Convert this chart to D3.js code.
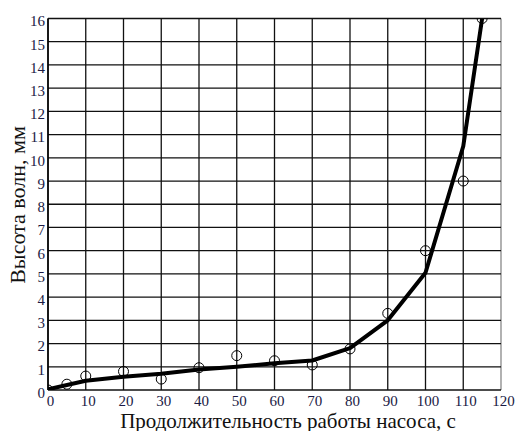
<!DOCTYPE html>
<html>
<head>
<meta charset="utf-8">
<script src="https://cdn.jsdelivr.net/npm/d3@7"></script>
<style>
  body { margin: 0; background: #fff; }
  svg { display: block; }
  .tick text { font-family: "Liberation Serif", "Times New Roman", serif; font-size: 15px; fill: #1a1a44; }
  .title { font-family: "Liberation Serif", "Times New Roman", serif; fill: #111; }
</style>
</head>
<body>
<svg id="chart"></svg>
<script>
// measured points (circles)
var pointX = [0, 5, 10, 20, 30, 40, 50, 60, 70, 80, 90, 100, 110, 115];
var pointY = [0, 0.25, 0.6, 0.8, 0.47, 0.96, 1.48, 1.26, 1.08, 1.77, 3.3, 6.0, 9.0, 16];

// fitted curve
var lineX = [0, 10, 20, 30, 40, 50, 60, 70, 80, 90, 100, 110, 115];
var lineY = [0.03, 0.4, 0.57, 0.7, 0.88, 1.0, 1.15, 1.27, 1.8, 3.0, 5.05, 10.5, 16];

var xTicks = [0, 10, 20, 30, 40, 50, 60, 70, 80, 90, 100, 110, 120];
var yTicks = [0, 1, 2, 3, 4, 5, 6, 7, 8, 9, 10, 11, 12, 13, 14, 15, 16];

var xTitle = 'Продолжительность работы насоса, с';
var yTitle = 'Высота волн, мм';

(function() {
	var width = 516, height = 431;
	var mLeft = 48, mRight = 501, mTop = 18.5, mBottom = 390;

	var svg = d3.select('#chart')
		.attr('width', width)
		.attr('height', height);

	var xScale = d3.scaleLinear().domain([0, 120]).range([mLeft, mRight]);
	var yScale = d3.scaleLinear().domain([0, 16]).range([mBottom, mTop]);

	// clip for the data
	svg.append('clipPath').attr('id', 'plot')
		.append('rect')
		.attr('x', mLeft).attr('y', mTop)
		.attr('width', mRight - mLeft).attr('height', mBottom - mTop);

	// grid
	var grid = svg.append('g').attr('class', 'grid');
	grid.selectAll('line.v').data(xTicks).enter()
		.append('line')
		.attr('class', 'v')
		.attr('x1', function(d) { return xScale(d); })
		.attr('x2', function(d) { return xScale(d); })
		.attr('y1', mTop).attr('y2', mBottom)
		.attr('stroke', function(d) { return d === 120 ? '#888' : '#111'; })
		.attr('stroke-width', 1.3);
	grid.selectAll('line.h').data(yTicks).enter()
		.append('line')
		.attr('class', 'h')
		.attr('x1', mLeft).attr('x2', mRight)
		.attr('y1', function(d) { return yScale(d); })
		.attr('y2', function(d) { return yScale(d); })
		.attr('stroke', '#111')
		.attr('stroke-width', 1.3);

	// axes (labels only)
	var xAxis = d3.axisBottom(xScale).tickValues(xTicks).tickSize(0).tickPadding(5);
	svg.append('g')
		.attr('transform', 'translate(2,' + mBottom + ')')
		.call(xAxis)
		.call(function(g) { g.select('.domain').remove(); });

	var yAxis = d3.axisLeft(yScale).tickValues(yTicks).tickSize(0).tickPadding(3);
	svg.append('g')
		.attr('transform', 'translate(' + mLeft + ',2.5)')
		.call(yAxis)
		.call(function(g) { g.select('.domain').remove(); });

	// left axis line
	svg.append('line')
		.attr('x1', mLeft).attr('x2', mLeft)
		.attr('y1', mTop).attr('y2', mBottom)
		.attr('stroke', '#000').attr('stroke-width', 1.5);

	var data = svg.append('g').attr('clip-path', 'url(#plot)');

	var line = d3.line()
		.x(function(d) { return xScale(d[0]); })
		.y(function(d) { return yScale(d[1]); });

	data.append('path')
		.datum(d3.zip(lineX, lineY))
		.attr('d', line)
		.attr('fill', 'none')
		.attr('stroke', '#000')
		.attr('stroke-width', 4)
		.attr('stroke-linejoin', 'round');

	data.selectAll('circle').data(d3.zip(pointX, pointY)).enter()
		.append('circle')
		.attr('cx', function(d) { return xScale(d[0]); })
		.attr('cy', function(d) { return yScale(d[1]); })
		.attr('r', 5)
		.attr('fill', 'none')
		.attr('stroke', '#000')
		.attr('stroke-width', 1);

	// titles
	svg.append('text')
		.attr('class', 'title')
		.attr('x', 288)
		.attr('y', 428)
		.attr('font-size', 21)
		.attr('text-anchor', 'middle')
		.text(xTitle);

	svg.append('text')
		.attr('class', 'title')
		.attr('transform', 'translate(25,205) rotate(-90)')
		.attr('font-size', 22)
		.attr('text-anchor', 'middle')
		.text(yTitle);
})();
</script>
</body>
</html>
